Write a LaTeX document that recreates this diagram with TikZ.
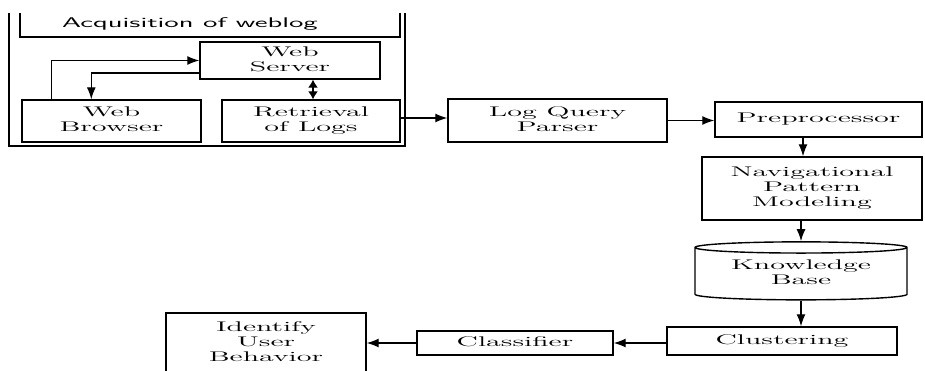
\documentclass[tikz,border=0pt]{standalone}
\usepackage{graphicx}
\usetikzlibrary{arrows.meta, shapes.geometric}

% stretched text, as in the drawing
\newcommand{\wide}[2][2.15]{\scalebox{#1}[1]{\begin{tabular}{@{}c@{}}#2\end{tabular}}}

\begin{document}
\begin{tikzpicture}[
    x=1pt, y=-1pt,
    blk/.style={draw, line width=1.4pt, rectangle, inner sep=0pt,
        font=\rmfamily\fontsize{14}{15}\selectfont},
    arr/.style={line width=1.3pt, -{Latex[length=12pt, width=9pt]}},
    dbl/.style={line width=1.3pt, {Latex[length=8pt, width=10pt]}-{Latex[length=8pt, width=10pt]}}
]

    % 1. Picture frame
    \clip (0,0) rectangle (925,370);

    % 2. Acquisition of weblog (open at the top)
    \draw[line width=1.8pt] (9,13) -- (9,146) -- (405,146) -- (405,13);
    \draw[line width=1.4pt] (20,13) -- (20,37) -- (400,37) -- (400,13);
    \node[font=\sffamily\fontsize{14}{14}\selectfont] (acq) at (190,25) {\wide[2.1]{Acquisition of weblog}};

    % 3. Boxes inside the acquisition part
    \node[blk, minimum width=180pt, minimum height=37pt] (server) at (290,60.5) {\wide{Web\\Server}};
    \node[blk, minimum width=179pt, minimum height=42pt] (browser) at (111.5,121) {\wide{Web\\Browser}};
    \node[blk, minimum width=178pt, minimum height=42pt] (retrieval) at (311,121) {\wide{Retrieval\\of Logs}};

    % 4. Processing chain
    \node[blk, minimum width=219pt, minimum height=43pt] (parser) at (557.5,120.5) {\wide{Log Query\\Parser}};
    \node[blk, minimum width=207pt, minimum height=35pt] (prep) at (818.5,119.5) {\wide{Preprocessor}};
    \node[blk, minimum width=220pt, minimum height=63pt] (nav) at (812,188.5) {\wide{Navigational\\Pattern\\Modeling}};
    \node[cylinder, shape border rotate=90, draw, line width=1.4pt, aspect=0.08,
          minimum width=212pt, minimum height=58pt, inner sep=0pt,
          font=\rmfamily\fontsize{14}{15}\selectfont] (kb) at (801,274) {\wide{Knowledge\\Base}};
    \node[blk, minimum width=230pt, minimum height=28pt] (clust) at (782,341) {\wide{Clustering}};
    \node[blk, minimum width=196pt, minimum height=24pt] (classifier) at (515,343) {\wide{Classifier}};
    \node[blk, minimum width=200pt, minimum height=60pt] (identify) at (266,343) {\wide{Identify\\User\\Behavior}};

    % 5. Connectors
    \draw[arr] ([xshift=30pt]browser.north west) |- (server.west);
    \draw[arr] ([yshift=-12.5pt]server.west) -| ([xshift=70pt]browser.north west);
    \draw[dbl] ([xshift=23pt]server.south) -- ([xshift=23pt]server.south |- retrieval.north);
    \draw[arr] ([yshift=3pt]retrieval.east) -- ([yshift=3pt]retrieval.east -| parser.west);
    \draw[arr] (parser.east) -- (parser.east -| prep.west);
    \draw[arr] ([xshift=-15.5pt]prep.south) -- ([xshift=-15.5pt]prep.south |- nav.north);
    \draw[arr] (kb.north |- nav.south) -- (kb.north);
    \draw[arr] (kb.south) -- (kb.south |- clust.north);
    \draw[arr] ([yshift=-2pt]clust.west) -- ([yshift=-2pt]clust.west -| classifier.east);
    \draw[arr] (classifier.west) -- (classifier.west -| identify.east);

\end{tikzpicture}
\end{document}
